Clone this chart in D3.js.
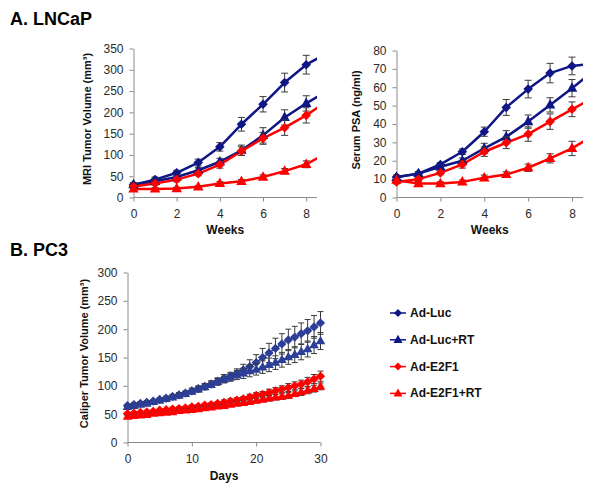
<!DOCTYPE html>
<html><head><meta charset="utf-8">
<script src="https://cdn.jsdelivr.net/npm/d3@7"></script>
<style>
body{margin:0;background:#fff}
svg{display:block}
text{font-family:"Liberation Sans",Arial,sans-serif}
</style>
</head><body><svg id="c" width="600" height="492"></svg>
<script>
// ---------- DATA ----------
const seriesNames = ["Ad-Luc","Ad-Luc+RT","Ad-E2F1","Ad-E2F1+RT"];

// Panel A: weeks (week 9 lies beyond the 8.5 axis end; only its line segment is visible, clipped)
const weeks = [0,1,2,3,4,5,6,7,8,9];
const weekTicks = [0,2,4,6,8];

const mriLuc    = [30,42,58,82,119,172,219,270,312,340];
const mriLucRT  = [30,38,48,64,84,111,146,188,221,251];
const mriE2F1   = [26,33,42,56,77,109,139,164,193,227];
const mriE2F1RT = [20,20,21,25,33,38,48,62,78,106];
const mriLucErr    = [5,6,6,8,10,16,18,22,22];
const mriLucRTErr  = [4,5,5,6,8,12,18,18,18];
const mriE2F1Err   = [4,4,5,5,8,10,14,18,18];
const mriE2F1RTErr = [3,3,3,3,4,4,5,6,8];
const mriTicks = [0,50,100,150,200,250,300,350];

const psaLuc    = [11.2,13,18,24.9,35.8,49,59,67.7,71.6,73];
const psaLucRT  = [11,13,16.7,20,26.7,33,41.3,50.4,59.5,69];
const psaE2F1   = [8.5,10,13.4,18,24.9,29.8,34.5,41.3,48,54.5];
const psaE2F1RT = [9.4,7.6,7.6,8.5,10.7,12.5,16.2,21.3,26.7,34];
const psaLucErr    = [1,1,1,1.5,2.5,4.3,4.8,5.3,4.8];
const psaLucRTErr  = [1,1,1,1.5,2.8,3.4,3.6,3.9,4.7];
const psaE2F1Err   = [1,1,1,2,2.5,3.2,3.9,4.2,4];
const psaE2F1RTErr = [1,1,1,1,1.5,1.5,2,2.5,3.9];
const psaTicks = [0,10,20,30,40,50,60,70,80];

// Panel B: days
const days = d3.range(0,31);
const dayTicks = [0,10,20,30];
const calLuc    = [65,67,69,71,73,76,78,81,84,87,91,95,99,103,108,113,117,122,128,134,141,150,158,166,174,181,186,192,197,204,211];
const calLucRT  = [63,65,67,69,72,74,77,80,83,86,90,94,98,102,107,111,115,119,122,126,129,133,137,141,146,151,155,160,165,172,179];
const calE2F1   = [51,52,53,54,55,57,58,59,60,61,63,64,66,67,69,71,73,75,77,80,83,85,88,91,94,97,100,103,107,112,117];
const calE2F1RT = [46,47,48,49,51,52,53,54,56,57,58,59,61,62,64,65,67,69,70,72,74,76,78,80,81,83,86,89,92,95,99];
const calLucErr    = [3,3,3,3,3,3,4,4,4,4,5,5,5,6,6,7,7,8,10,12,14,16,17,18,18,19,19,19,20,20,20];
const calLucRTErr  = [3,3,3,3,3,3,3,4,4,4,4,5,5,5,6,6,7,8,9,10,10,11,12,12,13,13,14,14,14,15,15];
const calE2F1Err   = [2,2,2,2,2,2,2,3,3,3,3,3,3,3,3,4,4,4,4,5,5,5,6,6,6,7,7,7,8,8,9];
const calE2F1RTErr = [2,2,2,2,2,2,2,2,2,3,3,3,3,3,3,3,3,4,4,4,4,4,5,5,5,5,5,6,6,6,6];
const calTicks = [0,50,100,150,200,250,300];

// ---------- DRAW ----------
const svg = d3.select("#c");
const NAVY = "#0f1685", RED = "#ff0000", BLUE2 = "#2c3e95";

const diamond = r => `M0,${-r}L${r},0L0,${r}L${-r},0Z`;
const triangle = w => { const h = w*0.9; return `M0,${-h*0.62}L${w/2},${h*0.38}L${-w/2},${h*0.38}Z`; };

let clipN = 0;
function panel(o){
  const x = d3.scaleLinear().domain(o.xDomain).range(o.xRange);
  const y = d3.scaleLinear().domain(o.yDomain).range(o.yRange);
  const g = svg.append("g");
  const id = "clip" + (clipN++);
  svg.append("clipPath").attr("id", id).append("rect")
    .attr("x", o.xRange[0]).attr("y", o.yRange[1] - 20)
    .attr("width", o.xRange[1] - o.xRange[0]).attr("height", o.yRange[0] - o.yRange[1] + 40);

  const ya = g.append("g").attr("transform", `translate(${o.xRange[0]},0)`)
    .call(d3.axisLeft(y).tickValues(o.yTicks).tickSize(4).tickPadding(6).tickSizeOuter(0));
  const xa = g.append("g").attr("transform", `translate(0,${o.yRange[0]})`)
    .call(d3.axisBottom(x).tickValues(o.xTicks).tickSize(4).tickPadding(8).tickSizeOuter(0));
  [ya, xa].forEach(a => {
    a.select(".domain").attr("stroke", "#8a8a8a");
    a.selectAll(".tick line").attr("stroke", "#8a8a8a");
    a.selectAll(".tick text").attr("fill", "#2a2a2a").style("font-size", "12px")
      .style("font-family", '"Liberation Sans",Arial,sans-serif');
  });
  xa.select(".domain").attr("d", `M${o.xRange[0]},0H${o.xRange[1]}`);

  g.append("text").attr("transform", `translate(${o.ylabelX},${(o.yRange[0]+o.yRange[1])/2 - 4}) rotate(-90)`)
    .attr("text-anchor", "middle").attr("dominant-baseline", "middle")
    .style("font-size", "11px").style("font-weight", "bold").attr("fill", "#111").text(o.ylabel);
  g.append("text").attr("x", (o.xRange[0]+o.xRange[1])/2).attr("y", o.xlabelY)
    .attr("text-anchor", "middle").style("font-size", "12px").style("font-weight", "bold")
    .attr("fill", "#111").text(o.xlabel);

  const line = d3.line().x((d,i) => x(o.xs[i])).y(d => y(d));
  const lg = g.append("g").attr("clip-path", `url(#${id})`);
  o.series.forEach(s => {
    lg.append("path").datum(s.vals).attr("d", line).attr("fill", "none")
      .attr("stroke", s.color).attr("stroke-width", o.lw).attr("stroke-linejoin", "round");
  });
  const xMax = o.xDomain[1];
  o.series.forEach(s => {
    const eg = g.append("g").attr("stroke", "#3a3a3a").attr("stroke-width", 1).attr("fill", "none");
    s.errs.forEach((e, i) => {
      const cx = x(o.xs[i]), yt = y(s.vals[i] + e), yb = y(s.vals[i] - e);
      eg.append("path").attr("d", `M${cx},${yt}V${yb}M${cx-o.cap},${yt}H${cx+o.cap}M${cx-o.cap},${yb}H${cx+o.cap}`);
    });
    const mg = g.append("g").attr("fill", s.color);
    s.vals.forEach((v, i) => {
      if (o.xs[i] > xMax) return;
      mg.append("path").attr("transform", `translate(${x(o.xs[i])},${y(v)})`)
        .attr("d", s.shape === "d" ? diamond(o.dr) : triangle(o.tw));
    });
  });
}

svg.append("text").attr("x", 10).attr("y", 25).style("font-size", "18px").style("font-weight", "bold").attr("fill", "#000").text("A. LNCaP");
svg.append("text").attr("x", 10).attr("y", 256).style("font-size", "18px").style("font-weight", "bold").attr("fill", "#000").text("B. PC3");

panel({
  xDomain:[0,8.5], xRange:[133.5,317], yDomain:[0,350], yRange:[197.5,48.5],
  xTicks:weekTicks, yTicks:mriTicks, xs:weeks,
  ylabel:"MRI Tumor Volume (mm³)", ylabelX:88, xlabel:"Weeks", xlabelY:234,
  lw:2.5, dr:4.8, tw:10.5, cap:3.5,
  series:[
    {vals:mriLuc, errs:mriLucErr, color:NAVY, shape:"d"},
    {vals:mriLucRT, errs:mriLucRTErr, color:NAVY, shape:"t"},
    {vals:mriE2F1, errs:mriE2F1Err, color:RED, shape:"d"},
    {vals:mriE2F1RT, errs:mriE2F1RTErr, color:RED, shape:"t"}
  ]
});

panel({
  xDomain:[0,8.5], xRange:[396.5,583], yDomain:[0,80], yRange:[197.5,50.5],
  xTicks:weekTicks, yTicks:psaTicks, xs:weeks,
  ylabel:"Serum PSA (ng/ml)", ylabelX:357, xlabel:"Weeks", xlabelY:234,
  lw:2.5, dr:4.8, tw:10.5, cap:3.5,
  series:[
    {vals:psaLuc, errs:psaLucErr, color:NAVY, shape:"d"},
    {vals:psaLucRT, errs:psaLucRTErr, color:NAVY, shape:"t"},
    {vals:psaE2F1, errs:psaE2F1Err, color:RED, shape:"d"},
    {vals:psaE2F1RT, errs:psaE2F1RTErr, color:RED, shape:"t"}
  ]
});

panel({
  xDomain:[0,30], xRange:[127.5,320.5], yDomain:[0,300], yRange:[442.5,272.5],
  xTicks:dayTicks, yTicks:calTicks, xs:days,
  ylabel:"Caliper Tumor Volume (mm³)", ylabelX:85, xlabel:"Days", xlabelY:480,
  lw:1.5, dr:4.6, tw:9.5, cap:3,
  series:[
    {vals:calLuc, errs:calLucErr, color:BLUE2, shape:"d"},
    {vals:calLucRT, errs:calLucRTErr, color:BLUE2, shape:"t"},
    {vals:calE2F1, errs:calE2F1Err, color:RED, shape:"d"},
    {vals:calE2F1RT, errs:calE2F1RTErr, color:RED, shape:"t"}
  ]
});

const legendColors = [NAVY, NAVY, RED, RED];
const legendShapes = ["d","t","d","t"];
const lgd = svg.append("g");
seriesNames.forEach((n, i) => {
  const cy = 313 + i*26.8;
  lgd.append("line").attr("x1", 390).attr("x2", 406).attr("y1", cy).attr("y2", cy)
    .attr("stroke", legendColors[i]).attr("stroke-width", 1.5);
  lgd.append("path").attr("transform", `translate(398,${cy})`).attr("fill", legendColors[i])
    .attr("d", legendShapes[i] === "d" ? diamond(4) : triangle(9));
  lgd.append("text").attr("x", 410).attr("y", cy).attr("dominant-baseline", "central")
    .style("font-size", "12px").style("font-weight", "bold").attr("fill", "#111").text(n);
});
</script>
</body></html>
